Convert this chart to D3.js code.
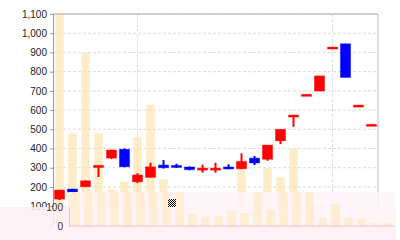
<!DOCTYPE html>
<html>
<head>
<meta charset="utf-8">
<script src="https://cdn.jsdelivr.net/npm/d3@7"></script>
<style>
  body { margin: 0; background: #fff; }
  svg { display: block; font-family: "DejaVu Sans", sans-serif; }
</style>
</head>
<body>
<div id="chart"></div>
<script>
// candles: open, high, low, close (one per session)
var days   = d3.range(1, 26);
var open   = [137, 189, 201, 305, 350, 396, 227, 250, 314, 312, 304, 292, 288, 304, 295, 350, 344, 440, 568, 673, 699, 919, 945, 619, 520];
var high   = [184, 190, 234, 312, 394, 400, 272, 326, 340, 321, 306, 315, 326, 318, 375, 361, 418, 500, 575, 682, 778, 928, 945, 626, 526];
var low    = [132, 163, 200, 252, 345, 303, 220, 250, 296, 300, 287, 275, 274, 292, 293, 314, 336, 423, 513, 673, 699, 919, 770, 619, 520];
var close  = [184, 174, 232, 312, 392, 305, 262, 305, 300, 302, 290, 298, 298, 294, 333, 325, 418, 500, 574, 682, 778, 928, 770, 626, 526];
var volume = [1250, 480, 897, 480, 190, 227, 460, 627, 240, 63, 49, 52, 80, 68, 298, 84, 298, 251, 402, 42, 116, 42, 42, 16, 16];
var yTicks = d3.range(100, 1101, 100);
var xGridDays = [7, 22];
var navTicks = [0, 100];

var width = 400, height = 240;
var plot = {left: 53, right: 378, top: 14, bottom: 225.4};
var nav = {left: 69, right: 394, top: 192, bottom: 226};

var svg = d3.select("#chart").append("svg")
    .attr("width", width)
    .attr("height", height);

var x = d3.scaleBand().domain(days).range([plot.left, plot.right]).paddingInner(0.22).paddingOuter(0.11);
var xVol = d3.scaleBand().domain(days).range([plot.left, plot.right]).paddingInner(0.35).paddingOuter(0.17);
var y = d3.scaleLinear().domain([0, 1100]).range([plot.bottom, plot.top]);

var xNav = d3.scaleBand().domain(days).range([nav.left, nav.right]).paddingInner(0.35).paddingOuter(0.17);
var yNav = d3.scaleLinear().domain([0, 100]).range([nav.bottom, 207]);

var defs = svg.append("defs");
defs.append("clipPath").attr("id", "clipMain")
  .append("rect")
    .attr("x", plot.left).attr("y", plot.top)
    .attr("width", plot.right - plot.left).attr("height", plot.bottom - plot.top);
defs.append("clipPath").attr("id", "clipNav")
  .append("rect")
    .attr("x", nav.left).attr("y", nav.top)
    .attr("width", nav.right - nav.left).attr("height", nav.bottom - nav.top);
var pat = defs.append("pattern").attr("id", "checker")
    .attr("width", 2).attr("height", 2).attr("patternUnits", "userSpaceOnUse");
pat.append("rect").attr("width", 2).attr("height", 2).attr("fill", "#fff");
pat.append("rect").attr("width", 1).attr("height", 1).attr("fill", "#000");
pat.append("rect").attr("x", 1).attr("y", 1).attr("width", 1).attr("height", 1).attr("fill", "#000");

// horizontal grid
svg.append("g").selectAll("line").data(yTicks).enter().append("line")
    .attr("x1", plot.left).attr("x2", plot.right)
    .attr("y1", function(d){ return y(d); }).attr("y2", function(d){ return y(d); })
    .attr("stroke", "#ddd").attr("stroke-dasharray", "3,2");

// vertical grid
svg.append("g").selectAll("line").data(xGridDays).enter().append("line")
    .attr("x1", function(d){ return x(d) + x.bandwidth() / 2; })
    .attr("x2", function(d){ return x(d) + x.bandwidth() / 2; })
    .attr("y1", plot.top).attr("y2", plot.bottom)
    .attr("stroke", "#ddd").attr("stroke-dasharray", "3,2");

// volume bars behind the candles
svg.append("g").attr("clip-path", "url(#clipMain)")
  .selectAll("rect").data(days).enter().append("rect")
    .attr("x", function(d){ return xVol(d); })
    .attr("width", xVol.bandwidth())
    .attr("y", function(d, i){ return y(volume[i]); })
    .attr("height", function(d, i){ return y(0) - y(volume[i]); })
    .attr("fill", "#ffe4b0").attr("opacity", 0.7);

// candles
var color = function(i){ return close[i] >= open[i] ? "#ff0000" : "#0000ff"; };
var candle = svg.append("g").selectAll("g").data(days).enter().append("g");
candle.append("line")
    .attr("x1", function(d){ return x(d) + x.bandwidth() / 2; })
    .attr("x2", function(d){ return x(d) + x.bandwidth() / 2; })
    .attr("y1", function(d, i){ return y(high[i]); })
    .attr("y2", function(d, i){ return y(low[i]); })
    .attr("stroke", function(d, i){ return color(i); })
    .attr("stroke-width", 2);
candle.append("rect")
    .attr("x", function(d){ return x(d); })
    .attr("width", x.bandwidth())
    .attr("y", function(d, i){ return y(Math.max(open[i], close[i])); })
    .attr("height", function(d, i){ return Math.max(2, Math.abs(y(open[i]) - y(close[i]))); })
    .attr("fill", function(d, i){ return color(i); })
    .attr("stroke", function(d, i){ return color(i); })
    .attr("stroke-opacity", 0.4);

// frame
svg.append("line").attr("x1", plot.left).attr("x2", plot.right).attr("y1", plot.top).attr("y2", plot.top)
    .attr("stroke", "#aaa");
svg.append("line").attr("x1", plot.right).attr("x2", plot.right).attr("y1", plot.top).attr("y2", plot.bottom)
    .attr("stroke", "#bbb");

// y axis
var yAxis = d3.axisLeft(y).tickValues(yTicks).tickFormat(d3.format(",")).tickSize(3).tickPadding(3);
var gY = svg.append("g").attr("transform", "translate(" + plot.left + ",0)").call(yAxis);
gY.select(".domain").attr("stroke", "#999");
gY.selectAll(".tick line").attr("stroke", "#999");
gY.selectAll("text").attr("fill", "#222").style("font-size", "10px");

// navigator overlay at the bottom
svg.append("rect").attr("x", 0).attr("y", 207).attr("width", 396).attr("height", height - 207)
    .attr("fill", "#fff0f5").attr("opacity", 0.88);
svg.append("rect").attr("x", nav.left).attr("y", nav.top).attr("width", nav.right - nav.left).attr("height", nav.bottom - nav.top)
    .attr("fill", "#fff5f8").attr("opacity", 0.85);

svg.append("g").attr("clip-path", "url(#clipNav)")
  .selectAll("rect").data(days).enter().append("rect")
    .attr("x", function(d){ return xNav(d); })
    .attr("width", xNav.bandwidth())
    .attr("y", function(d, i){ return yNav(volume[i]); })
    .attr("height", function(d, i){ return yNav(0) - yNav(volume[i]); })
    .attr("fill", "#ffe8bc").attr("opacity", 0.6);

var navAxis = d3.axisLeft(yNav).tickValues(navTicks).tickSize(0).tickPadding(6);
var gNav = svg.append("g").attr("transform", "translate(" + nav.left + ",0)").call(navAxis);
gNav.select(".domain").attr("stroke", "#e6c4cc");
gNav.selectAll("text").attr("fill", "#333").style("font-size", "10px");
svg.append("line").attr("x1", nav.left).attr("x2", nav.right).attr("y1", nav.bottom).attr("y2", nav.bottom)
    .attr("stroke", "#e6c4cc");

// grip icon
svg.append("rect").attr("x", 168).attr("y", 199).attr("width", 8).attr("height", 8)
    .attr("fill", "url(#checker)");
</script>
</body>
</html>
